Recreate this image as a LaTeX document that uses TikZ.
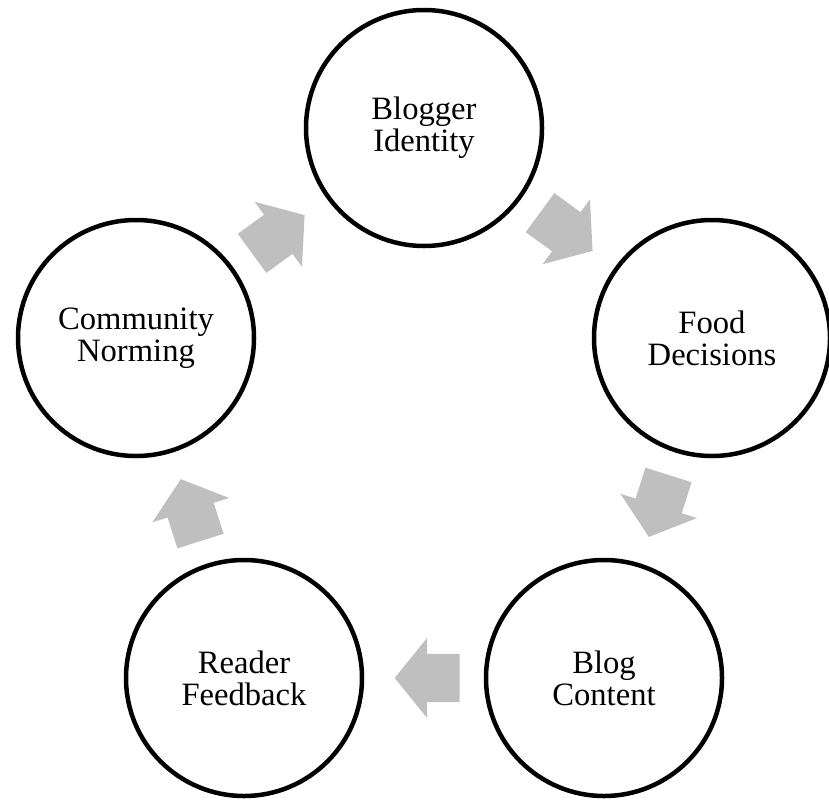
\documentclass[tikz,border=0pt]{standalone}
\usepackage{fontspec}
\setmainfont{Liberation Serif}
\usepackage{xcolor}
\usetikzlibrary{shapes.arrows}
\definecolor{cyclegray}{RGB}{191, 191, 191}

\begin{document}
\begin{tikzpicture}[x=1pt, y=-1pt,
    stage/.style={circle, draw=black, line width=4.5pt, fill=white, minimum size=236pt, inner sep=0pt, align=center, font=\fontsize{32.6}{31.7}\selectfont},
    flow/.style={single arrow, fill=cyclegray, draw=none, minimum height=65pt, inner xsep=0pt, inner ysep=24pt, single arrow head extend=16pt, single arrow tip angle=102, sloped, allow upside down, anchor=tail, pos=0.2}]
    \useasboundingbox (0,0) rectangle (829,803);
    % the five stages
    \node[stage] (identity) at (424,128) {Blogger\\Identity};
    \node[stage] (food) at (712,338) {Food\\Decisions};
    \node[stage] (content) at (604,678) {Blog\\Content};
    \node[stage] (feedback) at (244,678) {Reader\\Feedback};
    \node[stage] (norming) at (136,338) {Community\\Norming};
    % block arrows round the cycle
    \path (identity) -- (food) node[flow] {};
    \path (food) -- (content) node[flow] {};
    \path (content) -- (feedback) node[flow] {};
    \path (feedback) -- (norming) node[flow] {};
    \path (norming) -- (identity) node[flow] {};
\end{tikzpicture}
\end{document}
